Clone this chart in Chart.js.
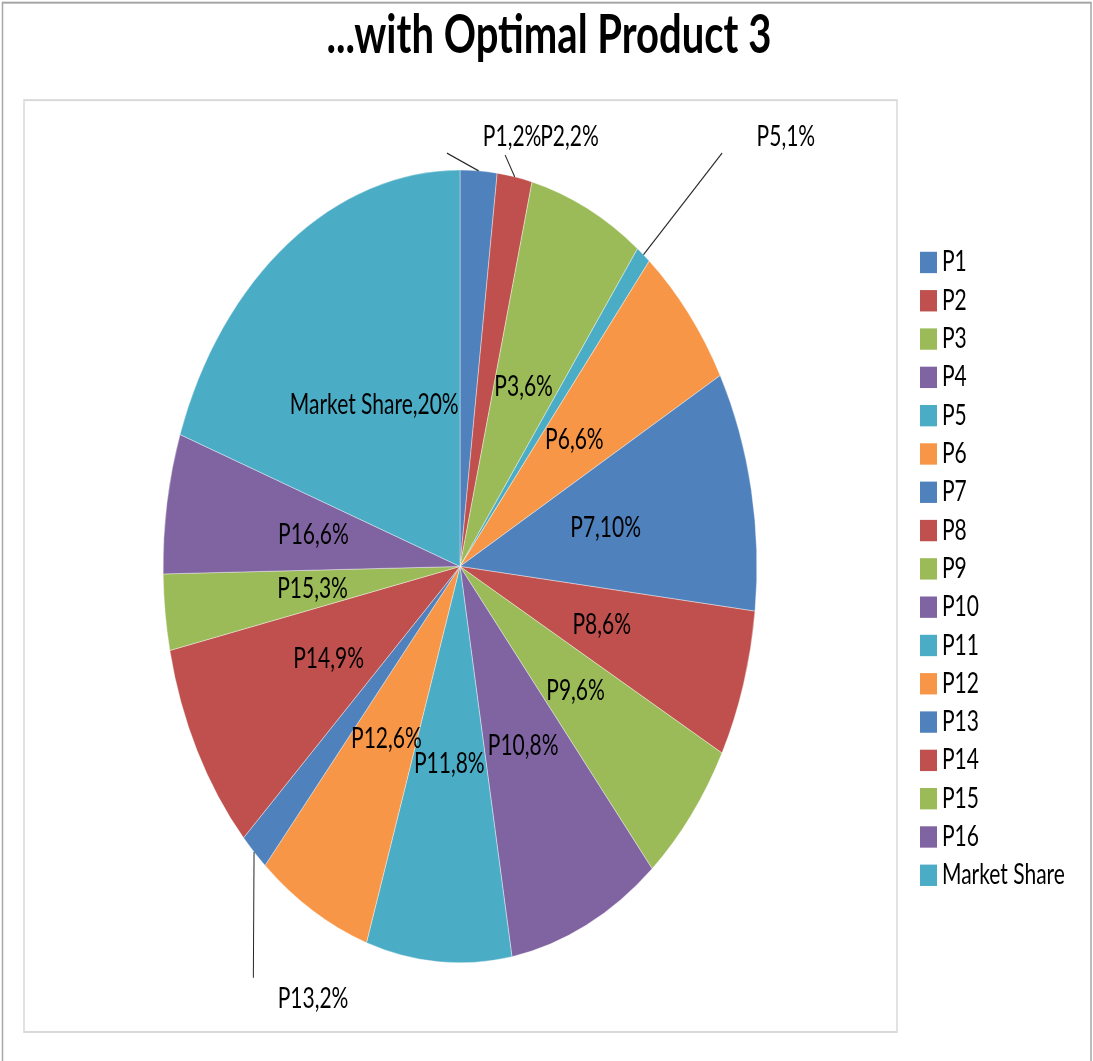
<!DOCTYPE html>
<html>
<head>
<meta charset="utf-8">
<script src="https://cdn.jsdelivr.net/npm/chart.js@4/dist/chart.umd.min.js"></script>
<style>
html,body{margin:0;padding:0;background:#fff;overflow:hidden;}
canvas{display:block;}
</style>
</head>
<body>
<canvas id="c" width="1093" height="1061"></canvas>
<script>
// ---- data ----
const chartTitle = '...with Optimal Product 3';
const categories = ['P1','P2','P3','P4','P5','P6','P7','P8','P9','P10','P11','P12','P13','P14','P15','P16','Market Share'];
const shareValues = [2.0, 1.9, 6.3, 0, 0.8, 6.0, 9.8, 6.0, 6.0, 8.4, 7.9, 6.3, 1.6, 8.6, 3.1, 5.7, 19.6];
const sliceColors = ['#4F81BD','#C0504D','#9BBB59','#8064A2','#4BACC6','#F79646',
                     '#4F81BD','#C0504D','#9BBB59','#8064A2','#4BACC6','#F79646',
                     '#4F81BD','#C0504D','#9BBB59','#8064A2','#4BACC6'];

// ---- styling / layout (unstretched units, page is stretched vertically) ----
const STRETCH = 1.335;
const FONT = 'Lato, "Open Sans", sans-serif';
// outside labels: leader end & text anchor in units of pie radius, relative to centre
const outsideLabels = {
  0:  {lineEnd: [-0.044, -1.043], text: [0.077, -1.083]},
  1:  {lineEnd: [0.152, -1.038],  text: [0.270, -1.083]},
  4:  {lineEnd: [0.883, -1.043],  text: [0.999, -1.083]},
  12: {lineEnd: [-0.696, 1.038],  text: [-0.614, 1.091]}
};

const total = shareValues.reduce((a, b) => a + b, 0);

const decorPlugin = {
  id: 'decor',
  beforeDraw(chart) {
    const ctx = chart.ctx;
    ctx.save();
    ctx.scale(1, STRETCH);
    // outer frame
    ctx.strokeStyle = '#a6a6a6';
    ctx.lineWidth = 1.5;
    ctx.strokeRect(2.5, 2, 1088.5, 900);
    // plot area frame
    ctx.strokeStyle = '#d9d9d9';
    ctx.lineWidth = 1.5;
    ctx.strokeRect(24, 75, 873, 698);
    // title
    ctx.fillStyle = '#000';
    ctx.font = 'bold 40px ' + FONT;
    ctx.textAlign = 'center';
    ctx.textBaseline = 'alphabetic';
    ctx.fillText(chartTitle, 549, 40);
    // legend
    ctx.font = '21px ' + FONT;
    ctx.textAlign = 'left';
    ctx.textBaseline = 'middle';
    categories.forEach((name, i) => {
      const y = 196.6 + i * 28.69;
      ctx.fillStyle = sliceColors[i];
      ctx.fillRect(920, y - 8, 17, 16);
      ctx.fillStyle = '#000';
      ctx.fillText(name, 942, y);
    });
  },
  afterDraw(chart) {
    const ctx = chart.ctx;
    const meta = chart.getDatasetMeta(0);
    ctx.font = '21px ' + FONT;
    ctx.fillStyle = '#000';
    ctx.textBaseline = 'middle';
    meta.data.forEach((arc, i) => {
      const v = shareValues[i];
      if (!v) return;
      const label = categories[i] + ',' + Math.round(v / total * 100) + '%';
      const p = arc.getProps(['x', 'y', 'startAngle', 'endAngle', 'outerRadius'], true);
      const R = p.outerRadius;
      const o = outsideLabels[i];
      if (o) {
        const mid = (p.startAngle + p.endAngle) / 2;
        ctx.strokeStyle = '#262626';
        ctx.lineWidth = 1;
        ctx.beginPath();
        ctx.moveTo(p.x + Math.cos(mid) * R, p.y + Math.sin(mid) * R);
        ctx.lineTo(p.x + o.lineEnd[0] * R, p.y + o.lineEnd[1] * R);
        ctx.stroke();
        ctx.textAlign = 'left';
        ctx.fillText(label, p.x + o.text[0] * R, p.y + o.text[1] * R);
      } else {
        const c = arc.tooltipPosition(true);
        ctx.textAlign = 'center';
        ctx.fillText(label, c.x, c.y);
      }
    });
    ctx.restore();
  }
};

new Chart(document.getElementById('c'), {
  type: 'pie',
  data: {
    labels: categories,
    datasets: [{
      data: shareValues,
      backgroundColor: sliceColors,
      borderColor: 'rgba(255,255,255,0.55)',
      borderWidth: 0.6
    }]
  },
  options: {
    responsive: false,
    animation: false,
    events: [],
    layout: {padding: {left: 162.8, right: 335.8, top: 127.1, bottom: 1061 - 721.5}},
    plugins: {
      legend: {display: false},
      title: {display: false},
      tooltip: {enabled: false}
    }
  },
  plugins: [decorPlugin]
});
</script>
</body>
</html>
